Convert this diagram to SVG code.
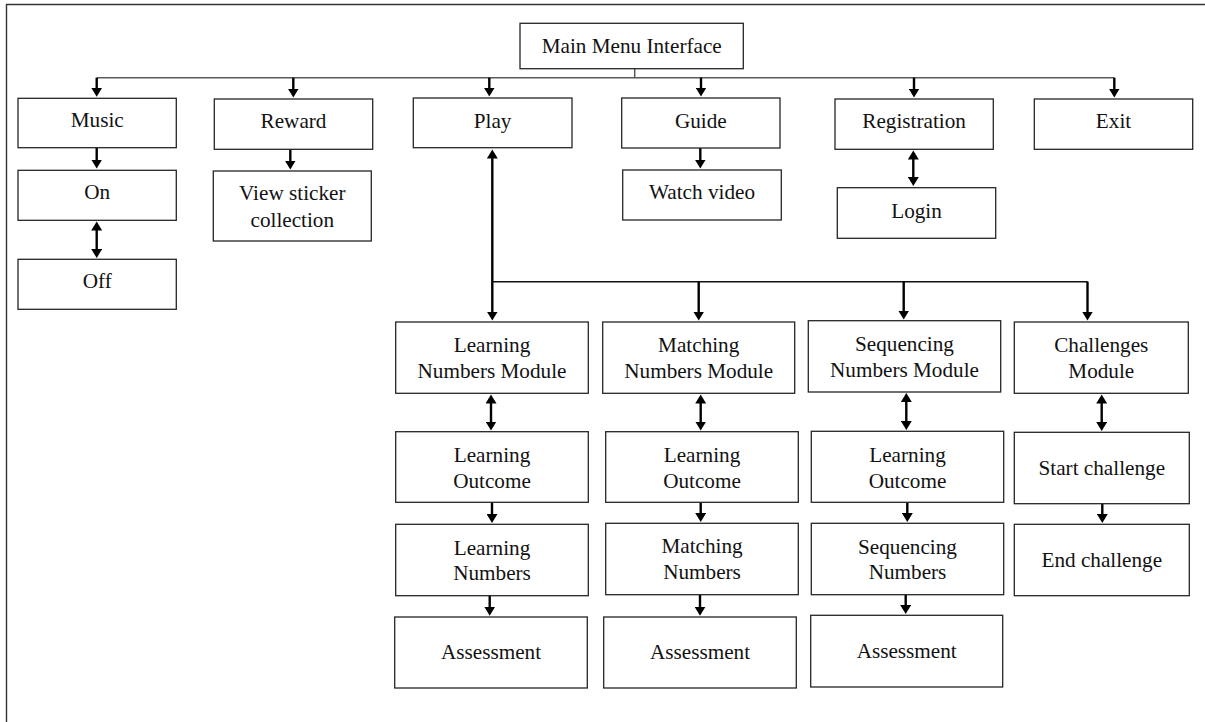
<svg xmlns="http://www.w3.org/2000/svg" width="1205" height="722" viewBox="0 0 1205 722">
  <style>
    .box { fill: #ffffff; stroke: #262626; stroke-width: 1.3; }
    .lbl { font-family: "Liberation Serif", "Times New Roman", serif; font-size: 21.2px; fill: #111111; text-anchor: middle; }
    .bus { fill: none; stroke: #5a5a5a; stroke-width: 1.5; }
    .bus2 { fill: none; stroke: #111111; stroke-width: 1.4; }
    .arr { fill: none; stroke: #000000; stroke-width: 2.4; marker-end: url(#ah); }
    .dbl { fill: none; stroke: #000000; stroke-width: 2.4; marker-start: url(#ah); marker-end: url(#ah); }
    .frame { fill: none; stroke: #333333; stroke-width: 1.4; }
  </style>
  <defs>
    <marker id="ah" markerUnits="userSpaceOnUse" markerWidth="10" markerHeight="11" refX="5" refY="5.5" orient="auto-start-reverse">
      <path d="M0,0 L9,5.5 L0,11 z" fill="#000000"/>
    </marker>
  </defs>

  <rect width="1205" height="722" fill="#ffffff"/>
  <path class="frame" d="M6.5,722 V4.5 H1205"/>

  <g id="connectors">
    <!-- top level distribution -->
    <path class="bus" d="M634.7,68.7 V77.7"/>
    <path class="bus" d="M96.7,77.7 H1114.3"/>
    <path class="arr" d="M96.7,77.7 V92.7"/>
    <path class="arr" d="M293.3,77.7 V93.5"/>
    <path class="arr" d="M489.3,77.7 V92.5"/>
    <path class="arr" d="M701,77.7 V92.5"/>
    <path class="arr" d="M914,77.7 V93.5"/>
    <path class="arr" d="M1114.3,77.7 V93.5"/>

    <!-- sub items of the first row -->
    <path class="arr" d="M96.7,147.7 V164.5"/>
    <path class="dbl" d="M96.7,225.5 V254"/>
    <path class="arr" d="M290.3,149.3 V165.5"/>
    <path class="arr" d="M700.3,148 V164.5"/>
    <path class="dbl" d="M913.3,154.5 V182"/>

    <!-- play to modules -->
    <path class="dbl" d="M492.3,153.5 V316.5"/>
    <path class="bus2" d="M492.3,281.7 H1087.7"/>
    <path class="arr" d="M698.7,281.7 V316.5"/>
    <path class="arr" d="M903.7,281.7 V315.5"/>
    <path class="arr" d="M1087.5,281.7 V316.5"/>

    <!-- learning numbers column -->
    <path class="dbl" d="M491,398.5 V426.5"/>
    <path class="arr" d="M492,502.3 V519"/>
    <path class="arr" d="M489.7,595.7 V611.7"/>

    <!-- matching numbers column -->
    <path class="dbl" d="M700.7,398.5 V426.5"/>
    <path class="arr" d="M700.7,502.3 V518"/>
    <path class="arr" d="M700,594.7 V611.7"/>

    <!-- sequencing numbers column -->
    <path class="dbl" d="M906.3,397 V426"/>
    <path class="arr" d="M907.3,502.3 V518"/>
    <path class="arr" d="M905.7,594.7 V610"/>

    <!-- challenges column -->
    <path class="dbl" d="M1101.7,398.5 V427"/>
    <path class="arr" d="M1102.3,503.7 V519"/>
  </g>

  <g id="main-menu">
    <rect class="box" x="520" y="23.3" width="223.3" height="45.4"/>
    <text class="lbl" x="631.7" y="53.3">Main Menu Interface</text>
  </g>

  <g id="music">
    <rect class="box" x="18" y="98.3" width="158.3" height="49.4"/>
    <text class="lbl" x="97.2" y="126.7">Music</text>
  </g>
  <g id="music-on">
    <rect class="box" x="18" y="170.3" width="158.3" height="50"/>
    <text class="lbl" x="97.2" y="199.3">On</text>
  </g>
  <g id="music-off">
    <rect class="box" x="18" y="259.3" width="158.3" height="50"/>
    <text class="lbl" x="97.2" y="288.3">Off</text>
  </g>

  <g id="reward">
    <rect class="box" x="214.3" y="99" width="158.4" height="50.3"/>
    <text class="lbl" x="293.5" y="128.3">Reward</text>
  </g>
  <g id="sticker-collection">
    <rect class="box" x="213.3" y="171" width="158" height="70"/>
    <text class="lbl" x="292.3" y="200">View sticker</text>
    <text class="lbl" x="292.3" y="226.7">collection</text>
  </g>

  <g id="play">
    <rect class="box" x="413.3" y="98" width="158.7" height="49.7"/>
    <text class="lbl" x="492.6" y="127.7">Play</text>
  </g>

  <g id="guide">
    <rect class="box" x="621.7" y="98" width="158.3" height="50"/>
    <text class="lbl" x="700.8" y="127.7">Guide</text>
  </g>
  <g id="watch-video">
    <rect class="box" x="622.7" y="170" width="158.6" height="50"/>
    <text class="lbl" x="702" y="199.3">Watch video</text>
  </g>

  <g id="registration">
    <rect class="box" x="835" y="99" width="158.3" height="50.3"/>
    <text class="lbl" x="914.1" y="128.3">Registration</text>
  </g>
  <g id="login">
    <rect class="box" x="837.3" y="187.7" width="158.4" height="50.6"/>
    <text class="lbl" x="916.5" y="218.3">Login</text>
  </g>

  <g id="exit">
    <rect class="box" x="1034.3" y="99" width="158.4" height="50.3"/>
    <text class="lbl" x="1113.5" y="128.3">Exit</text>
  </g>

  <!-- learning numbers module -->
  <g id="learning-module">
    <rect class="box" x="395.7" y="322" width="192.6" height="71.3"/>
    <text class="lbl" x="492" y="351.7">Learning</text>
    <text class="lbl" x="492" y="378.3">Numbers Module</text>
  </g>
  <g id="learning-outcome-1">
    <rect class="box" x="395.7" y="431.7" width="192.6" height="70.6"/>
    <text class="lbl" x="492" y="461.7">Learning</text>
    <text class="lbl" x="492" y="487.7">Outcome</text>
  </g>
  <g id="learning-numbers">
    <rect class="box" x="395.7" y="524.3" width="192.6" height="71.4"/>
    <text class="lbl" x="492" y="555">Learning</text>
    <text class="lbl" x="492" y="580">Numbers</text>
  </g>
  <g id="assessment-1">
    <rect class="box" x="394.7" y="617" width="192.6" height="71"/>
    <text class="lbl" x="491" y="659.3">Assessment</text>
  </g>

  <!-- matching numbers module -->
  <g id="matching-module">
    <rect class="box" x="602.7" y="322" width="192" height="71.3"/>
    <text class="lbl" x="698.7" y="351.7">Matching</text>
    <text class="lbl" x="698.7" y="378.3">Numbers Module</text>
  </g>
  <g id="learning-outcome-2">
    <rect class="box" x="605.7" y="431.7" width="192.6" height="70.6"/>
    <text class="lbl" x="702" y="461.7">Learning</text>
    <text class="lbl" x="702" y="487.7">Outcome</text>
  </g>
  <g id="matching-numbers">
    <rect class="box" x="605.7" y="523.3" width="192.6" height="71.4"/>
    <text class="lbl" x="702" y="553.3">Matching</text>
    <text class="lbl" x="702" y="579.3">Numbers</text>
  </g>
  <g id="assessment-2">
    <rect class="box" x="603.7" y="617" width="192.6" height="71"/>
    <text class="lbl" x="700" y="659.3">Assessment</text>
  </g>

  <!-- sequencing numbers module -->
  <g id="sequencing-module">
    <rect class="box" x="808.3" y="320.7" width="192.4" height="71.3"/>
    <text class="lbl" x="904.5" y="350.7">Sequencing</text>
    <text class="lbl" x="904.5" y="377.3">Numbers Module</text>
  </g>
  <g id="learning-outcome-3">
    <rect class="box" x="811.3" y="431.3" width="192.4" height="71"/>
    <text class="lbl" x="907.5" y="461.7">Learning</text>
    <text class="lbl" x="907.5" y="487.7">Outcome</text>
  </g>
  <g id="sequencing-numbers">
    <rect class="box" x="811.3" y="523.3" width="192.4" height="71.4"/>
    <text class="lbl" x="907.5" y="554">Sequencing</text>
    <text class="lbl" x="907.5" y="579.3">Numbers</text>
  </g>
  <g id="assessment-3">
    <rect class="box" x="810.7" y="615.3" width="192" height="71.7"/>
    <text class="lbl" x="906.7" y="658.3">Assessment</text>
  </g>

  <!-- challenges module -->
  <g id="challenges-module">
    <rect class="box" x="1014.3" y="322" width="174" height="71.3"/>
    <text class="lbl" x="1101.3" y="351.7">Challenges</text>
    <text class="lbl" x="1101.3" y="378.3">Module</text>
  </g>
  <g id="start-challenge">
    <rect class="box" x="1014.3" y="432.3" width="175" height="71.4"/>
    <text class="lbl" x="1101.8" y="475">Start challenge</text>
  </g>
  <g id="end-challenge">
    <rect class="box" x="1014.3" y="524.3" width="175" height="71.4"/>
    <text class="lbl" x="1101.8" y="566.7">End challenge</text>
  </g>
</svg>
